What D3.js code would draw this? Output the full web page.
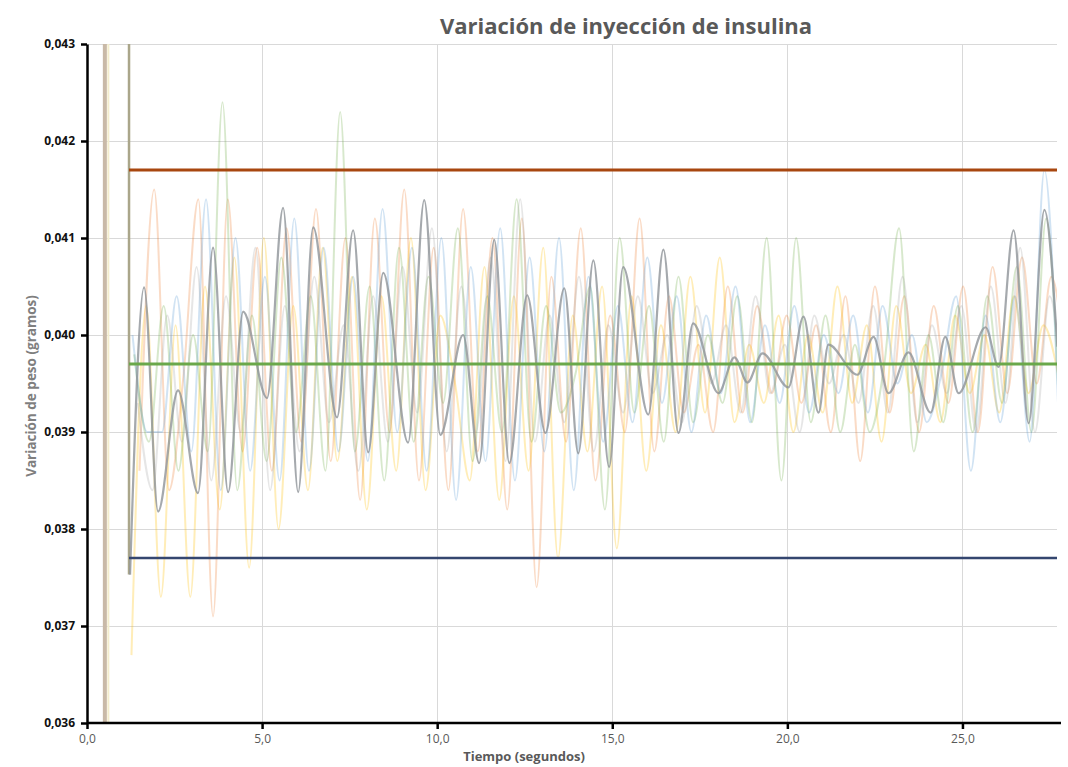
<!DOCTYPE html>
<html>
<head>
<meta charset="utf-8">
<script src="https://cdn.jsdelivr.net/npm/d3@7"></script>
<style>
  html, body { margin: 0; padding: 0; background: #ffffff; }
  svg { display: block; }
</style>
</head>
<body>
<svg id="chart" width="1068" height="767"></svg>
<script>
// ---- Data -------------------------------------------------------------
const chartTitle = "Variación de inyección de insulina";
const xTitle = "Tiempo (segundos)";
const yTitle = "Variación de peso (gramos)";

const xTicks = [0, 5, 10, 15, 20, 25];
const yTicks = [0.036, 0.037, 0.038, 0.039, 0.040, 0.041, 0.042, 0.043];

// control limits (upper, mean, lower)
const upperLimit = 0.0417;
const meanLevel = 0.0397;
const lowerLimit = 0.0377;
const limitStart = 1.2;
const limitEnd = 27.7;

// instants where the readings jump at start-up
const onsetTimes = [0.51, 0.61];
const settleTime = 1.2;

// sampling grid for the repeated trials (seconds)
const trialStep = 0.42;

const orangeStart = 1.50;
const orangeValues = [
  0.0386, 0.0415, 0.0384, 0.0396, 0.0414, 0.0371, 0.0414, 0.0388, 0.0409, 0.0386,
  0.0411, 0.0389, 0.0413, 0.0387, 0.0410, 0.0383, 0.0412, 0.0390, 0.0415, 0.0385,
  0.0409, 0.0384, 0.0413, 0.0388, 0.0410, 0.0382, 0.0412, 0.0374, 0.0406, 0.0389,
  0.0411, 0.0385, 0.0402, 0.0390, 0.0412, 0.0388, 0.0404, 0.0392, 0.0399, 0.0390,
  0.0405, 0.0392, 0.0403, 0.0394, 0.0402, 0.0393, 0.0401, 0.0390, 0.0404, 0.0387,
  0.0405, 0.0392, 0.0404, 0.0390, 0.0403, 0.0393, 0.0405, 0.0390, 0.0407, 0.0394,
  0.0408, 0.0395, 0.0406, 0.0396
];

const blueStart = 1.30;
const blueValues = [
  0.0400, 0.0390, 0.0390, 0.0404, 0.0388, 0.0414, 0.0384, 0.0410, 0.0386, 0.0406,
  0.0385, 0.0412, 0.0386, 0.0409, 0.0388, 0.0406, 0.0387, 0.0413, 0.0390, 0.0409,
  0.0386, 0.0410, 0.0383, 0.0407, 0.0387, 0.0411, 0.0385, 0.0408, 0.0388, 0.0410,
  0.0384, 0.0406, 0.0389, 0.0403, 0.0391, 0.0408, 0.0393, 0.0404, 0.0390, 0.0402,
  0.0394, 0.0405, 0.0391, 0.0401, 0.0393, 0.0403, 0.0392, 0.0400, 0.0394, 0.0402,
  0.0392, 0.0403, 0.0395, 0.0400, 0.0391, 0.0396, 0.0404, 0.0386, 0.0402, 0.0391,
  0.0404, 0.0389, 0.0417, 0.0390
];

const yellowStart = 1.27;
const yellowValues = [
  0.0367, 0.0403, 0.0373, 0.0401, 0.0373, 0.0405, 0.0382, 0.0408, 0.0376, 0.0410,
  0.0380, 0.0403, 0.0384, 0.0409, 0.0387, 0.0406, 0.0382, 0.0404, 0.0386, 0.0410,
  0.0384, 0.0402, 0.0395, 0.0385, 0.0407, 0.0383, 0.0404, 0.0386, 0.0409, 0.0377,
  0.0402, 0.0388, 0.0405, 0.0378, 0.0404, 0.0386, 0.0401, 0.0390, 0.0406, 0.0392,
  0.0408, 0.0391, 0.0399, 0.0393, 0.0402, 0.0390, 0.0400, 0.0392, 0.0405, 0.0393,
  0.0401, 0.0389, 0.0403, 0.0394, 0.0399, 0.0391, 0.0402, 0.0394, 0.0400, 0.0392,
  0.0404, 0.0394, 0.0401, 0.0396
];

const greenStart = 1.35;
const greenValues = [
  0.0398, 0.0389, 0.0403, 0.0386, 0.0400, 0.0388, 0.0424, 0.0384, 0.0402, 0.0387,
  0.0408, 0.0390, 0.0404, 0.0386, 0.0423, 0.0388, 0.0405, 0.0385, 0.0409, 0.0389,
  0.0406, 0.0393, 0.0411, 0.0387, 0.0404, 0.0390, 0.0414, 0.0389, 0.0403, 0.0392,
  0.0396, 0.0405, 0.0382, 0.0410, 0.0392, 0.0403, 0.0389, 0.0406, 0.0391, 0.0400,
  0.0393, 0.0404, 0.0391, 0.0410, 0.0385, 0.0410, 0.0391, 0.0402, 0.0390, 0.0399,
  0.0390, 0.0397, 0.0411, 0.0388, 0.0400, 0.0391, 0.0403, 0.0390, 0.0404, 0.0393,
  0.0407, 0.0390, 0.0412, 0.0388
];

const greyStart = 1.45;
const greyValues = [
  0.0393, 0.0384, 0.0402, 0.0389, 0.0407, 0.0385, 0.0404, 0.0390, 0.0409, 0.0384,
  0.0403, 0.0388, 0.0406, 0.0391, 0.0401, 0.0386, 0.0404, 0.0389, 0.0407, 0.0392,
  0.0411, 0.0388, 0.0405, 0.0390, 0.0408, 0.0387, 0.0414, 0.0389, 0.0402, 0.0391,
  0.0406, 0.0388, 0.0401, 0.0392, 0.0404, 0.0394, 0.0400, 0.0391, 0.0403, 0.0395,
  0.0401, 0.0392, 0.0404, 0.0394, 0.0399, 0.0390, 0.0402, 0.0395, 0.0400, 0.0393,
  0.0403, 0.0392, 0.0406, 0.0391, 0.0401, 0.0394, 0.0403, 0.0390, 0.0405, 0.0393,
  0.0409, 0.0390, 0.0404, 0.0392
];

// averaged trial (turning points)
const meanTimes = [
  1.23, 1.63, 2.03, 2.60, 3.17, 3.60, 4.03, 4.46, 5.14, 5.60, 6.03,
  6.46, 7.14, 7.60, 8.03, 8.46, 9.17, 9.63, 10.09, 10.74, 11.20,
  11.63, 12.06, 12.57, 13.09, 13.63, 14.03, 14.46, 14.91, 15.31, 16.03,
  16.46, 16.89, 17.31, 18.03, 18.49, 18.86, 19.29, 20.03, 20.46, 20.89,
  21.17, 22.00, 22.46, 22.89, 23.46, 24.09, 24.51, 24.89, 25.66, 26.03,
  26.46, 26.89, 27.34, 27.71
];
const meanValues = [
  0.03753, 0.04049, 0.03818, 0.03943, 0.03837, 0.04090, 0.03838, 0.04024, 0.03935, 0.04131, 0.03838,
  0.04111, 0.03915, 0.04108, 0.03879, 0.04064, 0.03889, 0.04139, 0.03897, 0.04000, 0.03868,
  0.04098, 0.03868, 0.04041, 0.03899, 0.04048, 0.03878, 0.04077, 0.03864, 0.04070, 0.03918,
  0.04088, 0.03899, 0.04012, 0.03940, 0.03977, 0.03951, 0.03981, 0.03946, 0.04019, 0.03920,
  0.03990, 0.03959, 0.03998, 0.03940, 0.03982, 0.03920, 0.03998, 0.03940, 0.04008, 0.03967,
  0.04108, 0.03909, 0.04129, 0.03988
];

// ---- Layout -----------------------------------------------------------
const svg = d3.select("#chart");
const margin = { left: 87, right: 1057, top: 44, bottom: 723 };

const x = d3.scaleLinear().domain([0, 27.7]).range([margin.left, margin.right]);
const y = d3.scaleLinear().domain([0.036, 0.043]).range([margin.bottom, margin.top]);

const fontFamily = "'Open Sans', 'Noto Sans', sans-serif";

// clip for the plotting area
svg.append("defs").append("clipPath").attr("id", "plot-clip")
  .append("rect")
  .attr("x", margin.left).attr("y", margin.top)
  .attr("width", margin.right - margin.left)
  .attr("height", margin.bottom - margin.top);

// gridlines
const grid = svg.append("g").attr("class", "grid");
grid.selectAll("line.h").data(yTicks.filter(d => d > 0.036)).join("line")
  .attr("class", "h")
  .attr("x1", margin.left).attr("x2", margin.right)
  .attr("y1", d => Math.round(y(d)) + 0.5).attr("y2", d => Math.round(y(d)) + 0.5)
  .attr("stroke", "#d9d9d9").attr("stroke-width", 1);
grid.selectAll("line.v").data(xTicks.filter(d => d > 0)).join("line")
  .attr("class", "v")
  .attr("y1", margin.top).attr("y2", margin.bottom)
  .attr("x1", d => Math.round(x(d)) + 0.5).attr("x2", d => Math.round(x(d)) + 0.5)
  .attr("stroke", "#d9d9d9").attr("stroke-width", 1);

// ---- Series -----------------------------------------------------------
const plot = svg.append("g").attr("clip-path", "url(#plot-clip)");

const line = d3.line()
  .x(d => x(d.t))
  .y(d => y(d.v))
  .curve(d3.curveMonotoneX);

function gridSeries(start, values) {
  return values.map((v, i) => ({ t: start + i * trialStep, v }));
}

const trials = [
  { name: "Ensayo 1", color: "#ED7D31", data: gridSeries(orangeStart, orangeValues) },
  { name: "Ensayo 2", color: "#FFC000", data: gridSeries(yellowStart, yellowValues) },
  { name: "Ensayo 3", color: "#70AD47", data: gridSeries(greenStart, greenValues) },
  { name: "Ensayo 4", color: "#5B9BD5", data: gridSeries(blueStart, blueValues) },
  { name: "Ensayo 5", color: "#A5A5A5", data: gridSeries(greyStart, greyValues) }
];

// start-up jumps: readings go off-scale before settling
plot.append("line")
  .attr("x1", x(onsetTimes[0])).attr("x2", x(onsetTimes[0]))
  .attr("y1", y(0.036)).attr("y2", y(0.043))
  .attr("stroke", "#c9b9a7").attr("stroke-width", 4);
plot.append("line")
  .attr("x1", x(onsetTimes[1])).attr("x2", x(onsetTimes[1]))
  .attr("y1", y(0.036)).attr("y2", y(0.043))
  .attr("stroke", "#f4edcc").attr("stroke-width", 2);

plot.selectAll("path.trial").data(trials).join("path")
  .attr("class", "trial")
  .attr("d", d => line(d.data))
  .attr("fill", "none")
  .attr("stroke", d => d.color)
  .attr("stroke-opacity", 0.28)
  .attr("stroke-width", 2);

const meanData = meanTimes.map((t, i) => ({ t, v: meanValues[i] }));

plot.append("line")
  .attr("x1", x(settleTime)).attr("x2", x(settleTime))
  .attr("y1", y(0.043)).attr("y2", y(meanValues[0]))
  .attr("stroke", "#aaa68a").attr("stroke-width", 2.5);

plot.append("path")
  .attr("d", line(meanData))
  .attr("fill", "none")
  .attr("stroke", "#8e9398")
  .attr("stroke-opacity", 0.8)
  .attr("stroke-width", 2.2);

// control limits
const limits = [
  { v: upperLimit, color: "#a8470f", w: 3 },
  { v: meanLevel, color: "#6aa84a", w: 3 },
  { v: lowerLimit, color: "#34466f", w: 2.5 }
];
plot.selectAll("line.limit").data(limits).join("line")
  .attr("class", "limit")
  .attr("x1", x(limitStart)).attr("x2", x(limitEnd))
  .attr("y1", d => y(d.v)).attr("y2", d => y(d.v))
  .attr("stroke", d => d.color).attr("stroke-width", d => d.w);

// ---- Axes -------------------------------------------------------------
const fmtY = v => d3.format(".3f")(v).replace(".", ",");
const fmtX = v => d3.format(".1f")(v).replace(".", ",");

const yAxis = svg.append("g")
  .attr("transform", `translate(${margin.left},0)`)
  .call(d3.axisLeft(y).tickValues(yTicks).tickFormat(fmtY).tickSize(6).tickSizeOuter(0));
yAxis.select(".domain").attr("stroke", "#000").attr("stroke-width", 2.5);
yAxis.selectAll(".tick line").attr("stroke", "#000").attr("stroke-width", 2.5);
yAxis.selectAll(".tick text")
  .attr("x", -12)
  .attr("fill", "#111")
  .style("font-family", fontFamily)
  .style("font-size", "12px")
  .style("font-weight", "700");

const xAxis = svg.append("g")
  .attr("transform", `translate(0,${margin.bottom})`)
  .call(d3.axisBottom(x).tickValues(xTicks).tickFormat(fmtX).tickSize(6).tickSizeOuter(0));
xAxis.select(".domain").attr("stroke", "#000").attr("stroke-width", 2.5)
  .attr("d", `M${margin.left},0H${margin.right + 4}`);
xAxis.selectAll(".tick line").attr("stroke", "#000").attr("stroke-width", 2.5);
xAxis.selectAll(".tick text")
  .attr("y", 11)
  .attr("fill", "#595959")
  .style("font-family", fontFamily)
  .style("font-size", "12px");

// ---- Titles -----------------------------------------------------------
svg.append("text")
  .attr("x", 626).attr("y", 34)
  .attr("text-anchor", "middle")
  .attr("fill", "#595959")
  .style("font-family", fontFamily)
  .style("font-size", "22px")
  .style("font-weight", "700")
  .text(chartTitle);

svg.append("text")
  .attr("x", 524).attr("y", 761)
  .attr("text-anchor", "middle")
  .attr("fill", "#595959")
  .style("font-family", fontFamily)
  .style("font-size", "13px")
  .style("font-weight", "700")
  .text(xTitle);

svg.append("text")
  .attr("transform", "translate(36,386) rotate(-90)")
  .attr("text-anchor", "middle")
  .attr("fill", "#7f7f7f")
  .style("font-family", fontFamily)
  .style("font-size", "13.5px")
  .style("font-weight", "700")
  .text(yTitle);
</script>
</body>
</html>
